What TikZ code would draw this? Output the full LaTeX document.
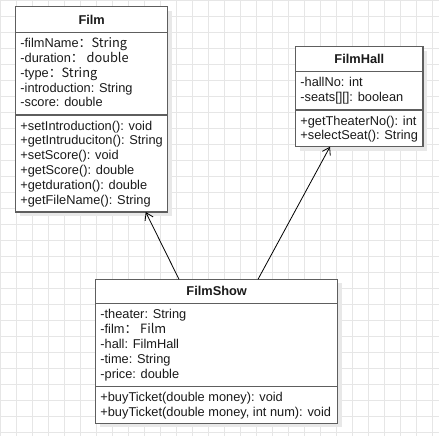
\documentclass[tikz,border=0pt]{standalone}
\usepackage{fontspec}
\setmainfont{Liberation Sans}
\newfontfamily\cjk{Noto Sans CJK SC}
\usetikzlibrary{arrows.meta,shadows,calc}
\definecolor{boxc}{HTML}{5E5E5E}
\definecolor{gridc}{HTML}{E6E6E6}
\definecolor{txtc}{HTML}{1A1A1A}
\begin{document}
\begin{tikzpicture}[x=1pt,y=-1pt,
  cls/.style={draw=boxc, line width=1.3pt, fill=white, rectangle, inner sep=0pt, outer sep=0pt, anchor=north west,
    drop shadow={shadow xshift=4pt, shadow yshift=-4pt, fill=black!9, opacity=1}},
  ttl/.style={font=\fontsize{12.8}{15}\selectfont\bfseries, text=txtc, inner sep=0pt},
  txt/.style={font=\fontsize{12.8}{15}\selectfont, text=txtc, inner sep=0pt, anchor=base west},
  sepline/.style={draw=boxc, line width=1.3pt},
  assoc/.style={draw=black, line width=0.8pt, -{Straight Barb[length=7pt,width=9pt]}}]
\useasboundingbox (0,0) rectangle (439,436);
\fill[white] (0,0) rectangle (439,436);
\draw[gridc, line width=0.6pt] (0,0) grid[step=16pt] (439,436);

% Film
\node[cls, minimum width=152pt, minimum height=205.3pt] (film) at (15.7,6.7) {};
\draw[sepline] (film.west |- 0,32.7) -- (film.east |- 0,32.7);
\draw[sepline] (film.west |- 0,115) -- (film.east |- 0,115);
\node[ttl] (filmT) at (91.7,19.7) {Film};
\foreach \t [count=\i from 0] in {{-filmName\cjk{：}String},{-duration\cjk{：} double},{-type\cjk{：}String},{-introduction: String},{-score: double}}
  \node[txt] (filmA\i) at (20.2,47.7+14.8*\i) {\t};
\foreach \t [count=\i from 0] in {{+setIntroduction(): void},{+getIntruduciton(): String},{+setScore(): void},{+getScore(): double},{+getduration(): double},{+getFileName(): String}}
  \node[txt] (filmM\i) at (20.2,130+14.8*\i) {\t};

% FilmHall
\node[cls, minimum width=127.3pt, minimum height=100pt] (hall) at (295.7,46.7) {};
\draw[sepline] (hall.west |- 0,71.7) -- (hall.east |- 0,71.7);
\draw[sepline] (hall.west |- 0,110) -- (hall.east |- 0,110);
\node[ttl] (hallT) at (359.35,59.2) {FilmHall};
\foreach \t [count=\i from 0] in {{-hallNo: int},{-seats[][]: boolean}}
  \node[txt] (hallA\i) at (300.2,86.7+14.8*\i) {\t};
\foreach \t [count=\i from 0] in {{+getTheaterNo(): int},{+selectSeat(): String}}
  \node[txt] (hallM\i) at (300.2,125+14.8*\i) {\t};

% FilmShow
\node[cls, minimum width=242pt, minimum height=144pt] (show) at (95.7,279.3) {};
\draw[sepline] (show.west |- 0,303.3) -- (show.east |- 0,303.3);
\draw[sepline] (show.west |- 0,386.7) -- (show.east |- 0,386.7);
\node[ttl] (showT) at (216.7,291.3) {FilmShow};
\foreach \t [count=\i from 0] in {{-theater: String},{-film\cjk{：} Film},{-hall: FilmHall},{-time: String},{-price: double}}
  \node[txt] (showA\i) at (100.2,318.7+15*\i) {\t};
\foreach \t [count=\i from 0] in {{+buyTicket(double money): void},{+buyTicket(double money, int num): void}}
  \node[txt] (showM\i) at (100.2,401.7+15*\i) {\t};

% associations
\draw[assoc] ([xshift=83.3pt]show.north west) -- ([xshift=130pt]film.south west);
\draw[assoc] ([xshift=162.3pt]show.north west) -- ([xshift=34.3pt]hall.south west);
\end{tikzpicture}
\end{document}
